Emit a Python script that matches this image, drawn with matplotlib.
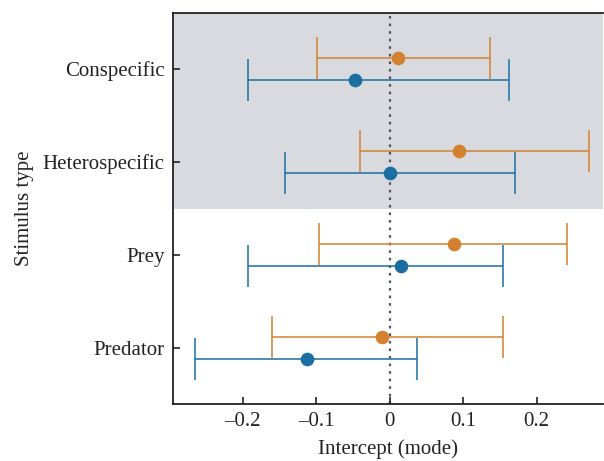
import matplotlib
matplotlib.use("Agg")
import matplotlib.pyplot as plt
import numpy as np

categories = ["Conspecific", "Heterospecific", "Prey", "Predator"]
orange_est = [0.011, 0.094, 0.088, -0.011]
orange_lo = [-0.099, -0.041, -0.096, -0.160]
orange_hi = [0.136, 0.272, 0.241, 0.154]
blue_est = [-0.047, 0.000, 0.015, -0.112]
blue_lo = [-0.193, -0.143, -0.193, -0.265]
blue_hi = [0.163, 0.171, 0.154, 0.037]
xticks = [-0.2, -0.1, 0, 0.1, 0.2]
xticklabels = ["\u20130.2", "\u20130.1", "0", "0.1", "0.2"]

plt.rcParams['font.family'] = ['Liberation Serif', 'DejaVu Serif']

fig = plt.figure(figsize=(6.04, 4.61), dpi=100)
ax = fig.add_axes([0.2864, 0.1236, 0.7126, 0.8482])

ORANGE = "#D4812F"
BLUE = "#1A6FA0"
TXT = "#222222"
ypos = np.arange(len(categories))[::-1].astype(float)
off = 0.12
FS = 15

ax.axhspan(1.5, 3.6, color="#D8DADF", zorder=0, lw=0)
ax.axvline(0, color="#555555", ls=(0, (1.2, 2.2)), lw=1.6, zorder=1)

for est, lo, hi, col, d in [(orange_est, orange_lo, orange_hi, ORANGE, off),
                             (blue_est, blue_lo, blue_hi, BLUE, -off)]:
    est = np.array(est); lo = np.array(lo); hi = np.array(hi)
    ax.errorbar(est, ypos + d, xerr=[est - lo, hi - est], fmt='o', color=col,
                ms=8.8, elinewidth=1.1, capsize=15, capthick=1.1, zorder=3)

ax.set_xlim(-0.295, 0.291)
ax.set_ylim(-0.6, 3.6)
ax.set_yticks(ypos)
ax.set_yticklabels(categories, fontsize=FS, color=TXT)
ax.set_xticks(xticks)
ax.set_xticklabels(xticklabels, fontsize=FS, color=TXT)
ax.tick_params(axis='both', direction='in', length=5, width=1.2, color=TXT)
ax.tick_params(axis='y', pad=6)
ax.tick_params(axis='x', pad=6)
ax.set_xlabel("Intercept (mode)", fontsize=FS, labelpad=6, color=TXT)
ax.set_ylabel("Stimulus type", fontsize=FS, labelpad=6, color=TXT)
for s in ["left", "bottom", "top"]:
    ax.spines[s].set_linewidth(1.3)
    ax.spines[s].set_color(TXT)
ax.spines["right"].set_visible(False)

fig.savefig("out.png", dpi=100)
